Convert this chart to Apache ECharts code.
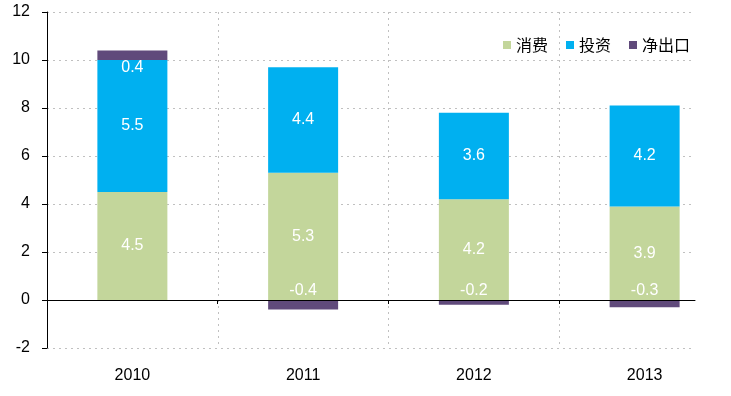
<!DOCTYPE html>
<html><head><meta charset="utf-8">
<script src="https://cdn.jsdelivr.net/npm/echarts@6/dist/echarts.min.js"></script>
<style>html,body{margin:0;padding:0;background:#fff}#c{width:731px;height:396px}</style>
</head><body><div id="c"></div>
<script>
var years = ['2010', '2011', '2012', '2013'];
var consumption = [4.5, 5.3, 4.2, 3.9];
var investment = [5.5, 4.4, 3.6, 4.2];
var netExport = [0.4, -0.4, -0.2, -0.3];
var seriesNames = ['消费', '投资', '净出口'];
var yTicks = { min: -2, max: 12, interval: 2 };

var font = 'Arial, "Liberation Sans", sans-serif';
var dotted = { color: '#C0C0C0', width: 1, type: [2, 4] };
var labelStyle = { show: true, color: '#fff', fontSize: 16, fontFamily: font };

var chart = echarts.init(document.getElementById('c'), null, { renderer: 'canvas' });
chart.setOption({
  animation: false,
  backgroundColor: '#fff',
  legend: {
    right: 36, top: 32,
    icon: 'rect', itemWidth: 8, itemHeight: 8, itemGap: 18,
    textStyle: { fontSize: 16, color: '#000', fontFamily: '"Noto Sans CJK SC", sans-serif' },
    data: seriesNames
  },
  grid: [
    { left: 47, right: 1, top: 12, bottom: 48 },
    { left: 47, right: 36, top: 12, bottom: 48 }
  ],
  xAxis: [
    {
      type: 'category', gridIndex: 0, data: years,
      axisLine: { show: false, onZero: false }, axisTick: { show: false },
      axisLabel: { margin: 20, fontSize: 16, color: '#000', fontFamily: font },
      splitLine: { show: true, showMinLine: false, showMaxLine: false, lineStyle: dotted }
    },
    {
      type: 'value', gridIndex: 1, min: 0, max: 648 / 170.75,
      axisLine: { show: true, onZero: true, onZeroAxisIndex: 1, lineStyle: { color: '#000', width: 1 } },
      axisTick: { show: true, customValues: [1, 2, 3], length: 4, lineStyle: { color: '#000' } },
      axisLabel: { show: false },
      splitLine: { show: false },
      z: 5
    }
  ],
  yAxis: [
    {
      type: 'value', gridIndex: 0, min: yTicks.min, max: yTicks.max, interval: yTicks.interval,
      axisLine: { show: true, lineStyle: { color: '#000' } },
      axisTick: { show: true, length: 5, lineStyle: { color: '#000' } },
      axisLabel: { margin: 17, fontSize: 16, color: '#000', fontFamily: font },
      splitLine: { show: false }
    },
    {
      type: 'value', gridIndex: 1, min: yTicks.min, max: yTicks.max, interval: yTicks.interval,
      axisLine: { show: false }, axisTick: { show: false }, axisLabel: { show: false },
      splitLine: { show: true, lineStyle: dotted }
    }
  ],
  series: [
    {
      name: seriesNames[0], type: 'bar', stack: 'a', barWidth: 70,
      xAxisIndex: 0, yAxisIndex: 0,
      itemStyle: { color: '#C3D69B' },
      label: Object.assign({ position: 'inside' }, labelStyle),
      data: consumption
    },
    {
      name: seriesNames[1], type: 'bar', stack: 'a', barWidth: 70,
      xAxisIndex: 0, yAxisIndex: 0,
      itemStyle: { color: '#00B0F0' },
      label: Object.assign({ position: 'inside' }, labelStyle),
      data: investment
    },
    {
      name: seriesNames[2], type: 'bar', stack: 'a', barWidth: 70,
      xAxisIndex: 0, yAxisIndex: 0,
      itemStyle: { color: '#604A7B' },
      label: Object.assign({}, labelStyle, { distance: 0 }),
      data: netExport.map(function (v) {
        return { value: v, label: { position: v < 0 ? 'top' : 'bottom', distance: v < 0 ? 1 : 0 } };
      })
    }
  ]
});
</script></body></html>
